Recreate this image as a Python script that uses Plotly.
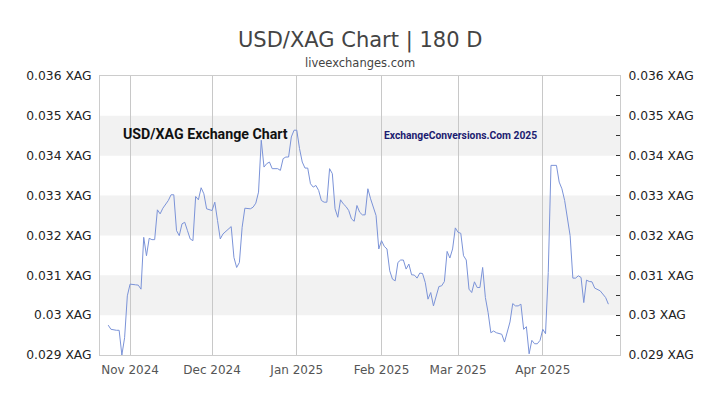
import plotly.graph_objects as go

dates = [
    "2024-10-24", "2024-10-25", "2024-10-27", "2024-10-28", "2024-10-29", "2024-10-30", "2024-10-31",
    "2024-11-01", "2024-11-03", "2024-11-04", "2024-11-05", "2024-11-06", "2024-11-07", "2024-11-08",
    "2024-11-09", "2024-11-10", "2024-11-11", "2024-11-12", "2024-11-13", "2024-11-15", "2024-11-16",
    "2024-11-17", "2024-11-18", "2024-11-19", "2024-11-20", "2024-11-21", "2024-11-22", "2024-11-23",
    "2024-11-24", "2024-11-25", "2024-11-26", "2024-11-27", "2024-11-28", "2024-11-29",
    "2024-12-01", "2024-12-02", "2024-12-03", "2024-12-04", "2024-12-05", "2024-12-07", "2024-12-08",
    "2024-12-09", "2024-12-10", "2024-12-11", "2024-12-12", "2024-12-13", "2024-12-15", "2024-12-16",
    "2024-12-17", "2024-12-18", "2024-12-19", "2024-12-20", "2024-12-21", "2024-12-22", "2024-12-23",
    "2024-12-25", "2024-12-26", "2024-12-27", "2024-12-28", "2024-12-29", "2024-12-30", "2024-12-31",
    "2025-01-01", "2025-01-02", "2025-01-03", "2025-01-04", "2025-01-05", "2025-01-06", "2025-01-07",
    "2025-01-08", "2025-01-09", "2025-01-10", "2025-01-11", "2025-01-12", "2025-01-13", "2025-01-14",
    "2025-01-15", "2025-01-16", "2025-01-17", "2025-01-18", "2025-01-19", "2025-01-20", "2025-01-21",
    "2025-01-22", "2025-01-23", "2025-01-24", "2025-01-25", "2025-01-26", "2025-01-27", "2025-01-28",
    "2025-01-29", "2025-01-30", "2025-01-31",
    "2025-02-01", "2025-02-02", "2025-02-03", "2025-02-04", "2025-02-05", "2025-02-06", "2025-02-07",
    "2025-02-08", "2025-02-09", "2025-02-10", "2025-02-11", "2025-02-12", "2025-02-13", "2025-02-14",
    "2025-02-15", "2025-02-16", "2025-02-17", "2025-02-18", "2025-02-19", "2025-02-20", "2025-02-21",
    "2025-02-22", "2025-02-23", "2025-02-24", "2025-02-25", "2025-02-26", "2025-02-27", "2025-02-28",
    "2025-03-01", "2025-03-02", "2025-03-03", "2025-03-04", "2025-03-05", "2025-03-06", "2025-03-07",
    "2025-03-08", "2025-03-09", "2025-03-10", "2025-03-11", "2025-03-12", "2025-03-13", "2025-03-14",
    "2025-03-15", "2025-03-16", "2025-03-17", "2025-03-18", "2025-03-19", "2025-03-20", "2025-03-21",
    "2025-03-22", "2025-03-23", "2025-03-24", "2025-03-25", "2025-03-26", "2025-03-27", "2025-03-28",
    "2025-03-29", "2025-03-30", "2025-03-31",
    "2025-04-01", "2025-04-02", "2025-04-03", "2025-04-04", "2025-04-05", "2025-04-06", "2025-04-07",
    "2025-04-08", "2025-04-09", "2025-04-10", "2025-04-11", "2025-04-12", "2025-04-13", "2025-04-14",
    "2025-04-15", "2025-04-16", "2025-04-17", "2025-04-18", "2025-04-19", "2025-04-20", "2025-04-21",
    "2025-04-22", "2025-04-24", "2025-04-25",
]

usd_xag = [
    0.02975, 0.029645, 0.02962, 0.02962, 0.029, 0.029433, 0.030484,
    0.030778, 0.030761, 0.030753, 0.030652, 0.031952, 0.031491, 0.031927,
    0.031894, 0.031894, 0.032642, 0.032542, 0.032683, 0.032877, 0.03302,
    0.03302, 0.032121, 0.031995, 0.03229, 0.03233, 0.032121, 0.031912,
    0.031869, 0.032977, 0.032894, 0.033196, 0.033045, 0.032668,
    0.032625, 0.032834, 0.032373, 0.031912, 0.032038, 0.032164, 0.032222,
    0.031448, 0.031196, 0.031322, 0.032204, 0.032683, 0.032668, 0.032708,
    0.032809, 0.033086, 0.034388, 0.033715, 0.033801, 0.033841, 0.033675,
    0.033675, 0.033632, 0.033927, 0.033967, 0.033967, 0.034471, 0.03464,
    0.03464, 0.034179, 0.033841, 0.03369, 0.03369, 0.033297, 0.033212,
    0.033254, 0.033128, 0.032877, 0.032834, 0.032834, 0.033675, 0.033549,
    0.032668, 0.032456, 0.032894, 0.032793, 0.032725, 0.032625, 0.032416,
    0.032355, 0.032751, 0.032582, 0.032516, 0.032516, 0.033171, 0.032919,
    0.032708, 0.032499, 0.03166,
    0.031869, 0.031725, 0.03166, 0.031113, 0.030904, 0.030861, 0.031322,
    0.031383, 0.031383, 0.031156, 0.031282, 0.031013, 0.031005, 0.030929,
    0.031055, 0.031045, 0.030819, 0.030401, 0.030567, 0.030232, 0.030484,
    0.030718, 0.030736, 0.030844, 0.031599, 0.031433, 0.03166, 0.032189,
    0.032078, 0.032053, 0.031491, 0.031383, 0.030652, 0.030567, 0.030836,
    0.030693, 0.030693, 0.031196, 0.030441, 0.030063, 0.029559, 0.029602,
    0.029559, 0.029534, 0.029519, 0.029325, 0.029602, 0.029829, 0.03029,
    0.030232, 0.030232, 0.030275, 0.029645, 0.02971, 0.02903, 0.029368,
    0.029282, 0.029282, 0.029368,
    0.029645, 0.029534, 0.031071, 0.033758, 0.033758, 0.033758, 0.033338,
    0.03317, 0.032877, 0.032416, 0.031995, 0.030929, 0.030929, 0.030987,
    0.030945, 0.030315, 0.030879, 0.030844, 0.030836, 0.030678, 0.030652,
    0.03061, 0.030441, 0.030275,
]

y_ticks = [0.029, 0.030, 0.031, 0.032, 0.033, 0.034, 0.035, 0.036]
y_tick_text = ["0.029 XAG", "0.03 XAG", "0.031 XAG", "0.032 XAG",
               "0.033 XAG", "0.034 XAG", "0.035 XAG", "0.036 XAG"]
month_ticks = ["2024-11-01", "2024-12-01", "2025-01-01", "2025-02-01", "2025-03-01", "2025-04-01"]
month_labels = ["Nov 2024", "Dec 2024", "Jan 2025", "Feb 2025", "Mar 2025", "Apr 2025"]
band_lows = [0.030, 0.032, 0.034]

FONT = "DejaVu Sans"
NARROW = "Roboto"

fig = go.Figure()
fig.add_trace(go.Scatter(
    x=dates, y=usd_xag, mode="lines",
    line=dict(color="#7b93d8", width=1),
    hoverinfo="skip", showlegend=False,
))
fig.add_trace(go.Scatter(
    x=dates, y=usd_xag, mode="lines", yaxis="y2",
    line=dict(color="rgba(0,0,0,0)", width=0),
    hoverinfo="skip", showlegend=False,
))

for lo in band_lows:
    fig.add_shape(type="rect", xref="paper", x0=0, x1=1, yref="y", y0=lo, y1=lo + 0.001,
                  fillcolor="#f2f2f2", line_width=0, layer="below")

fig.add_annotation(text="USD/XAG Chart | 180 D", xref="paper", yref="paper",
                   x=0.5, y=1.129, xanchor="center", yanchor="middle", showarrow=False,
                   font=dict(family=FONT, size=21, color="#444444"))
fig.add_annotation(text="liveexchanges.com", xref="paper", yref="paper",
                   x=0.5, y=1.0467, xanchor="center", yanchor="middle", showarrow=False,
                   font=dict(family=FONT, size=11.5, color="#444444"))
fig.add_annotation(text="<b>USD/XAG Exchange Chart</b>", xref="paper", yref="paper",
                   x=0.0408, y=0.791, xanchor="left", yanchor="middle", showarrow=False,
                   font=dict(family=NARROW, size=14.2, color="#111111"))
fig.add_annotation(text="<b>ExchangeConversions.Com 2025</b>", xref="paper", yref="paper",
                   x=0.5425, y=0.786, xanchor="left", yanchor="middle", showarrow=False,
                   font=dict(family=NARROW, size=10.3, color="#1c1c70"))

fig.update_layout(
    width=720, height=405,
    margin=dict(l=100, r=100, t=76, b=50),
    paper_bgcolor="white", plot_bgcolor="white",
    font=dict(family=FONT),
    xaxis=dict(
        range=["2024-10-21", "2025-04-29 06:00"],
        tickmode="array", tickvals=month_ticks, ticktext=month_labels,
        showgrid=True, gridcolor="#c8c8c8", gridwidth=1,
        showline=True, linecolor="#cccccc", linewidth=1, mirror=True,
        ticks="", ticklabelstandoff=4,
        tickfont=dict(family=FONT, size=12, color="#555555"),
        zeroline=False,
    ),
    yaxis=dict(
        range=[0.029, 0.036],
        tickmode="array", tickvals=y_ticks, ticktext=y_tick_text,
        showgrid=False, zeroline=False,
        showline=True, linecolor="#cccccc", linewidth=1,
        ticks="", ticklabelstandoff=5,
        tickfont=dict(family=FONT, size=12.3, color="#222222"),
    ),
    yaxis2=dict(
        range=[0.029, 0.036], overlaying="y", side="right",
        tickmode="array", tickvals=y_ticks, ticktext=y_tick_text,
        showgrid=False, zeroline=False,
        showline=True, linecolor="#cccccc", linewidth=1,
        ticks="inside", ticklen=4, tickcolor="#333333", tickwidth=1,
        minor=dict(dtick=0.0005, tick0=0.029, ticks="inside", ticklen=4, tickcolor="#333333"),
        ticklabelstandoff=5,
        tickfont=dict(family=FONT, size=12.3, color="#222222"),
    ),
)

fig.write_html("out.html")
